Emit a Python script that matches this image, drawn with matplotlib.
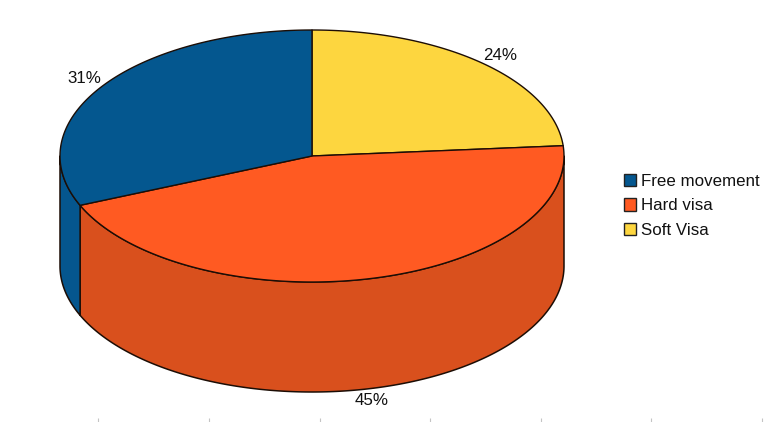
"""
3D style pie of visa preference shares
"""

import matplotlib
matplotlib.use("Agg")
import matplotlib.pyplot as plt
from matplotlib.patches import Patch, Polygon
import numpy as np

plt.rcParams['font.family'] = ['Liberation Sans', 'DejaVu Sans']

############### Data ################
# clockwise from 12 o'clock, as the slices are drawn
# shares are read off the slice edges, percents are the printed labels
labels = ["Soft Visa", "Hard visa", "Free movement"]
shares = [23.7, 44.9, 31.4]
percents = [24, 45, 31]

legend_order = ["Free movement", "Hard visa", "Soft Visa"]

top_colors = {"Free movement": "#04578F", "Hard visa": "#FF5A22", "Soft Visa": "#FDD63F"}
side_colors = {"Free movement": "#05568E", "Hard visa": "#D9501D", "Soft Visa": "#D9B535"}

############### Pie geometry, in pixels ################
cx, cy = 312, 156
rx, ry = 252, 126
depth = 110
label_r = 1.09


def rim(a0, a1):
    # points on the top ellipse, angles in degrees clockwise from the top
    t = np.radians(np.linspace(a0, a1, 200))
    return cx + rx * np.sin(t), cy - ry * np.cos(t)


fig = plt.figure(figsize=(7.68, 4.22), dpi=100)
ax = fig.add_axes([0, 0, 1, 1])
ax.set_xlim(0, 768)
ax.set_ylim(422, 0)
ax.axis('off')

edges = np.cumsum([0] + shares) * 3.6
label_edges = np.cumsum([0] + percents) * 3.6

########### Side walls ###########
for i, name in enumerate(labels):
    # only the part of the wall on the front half is visible
    a0, a1 = max(edges[i], 90), min(edges[i + 1], 270)
    if a1 <= a0:
        continue
    x, y = rim(a0, a1)
    pts = np.r_[np.c_[x, y], np.c_[x, y + depth][::-1]]
    ax.add_patch(Polygon(pts, closed=True, facecolor=side_colors[name],
                         edgecolor='#1c0d05', linewidth=1.1, joinstyle='round'))

########### Top faces ###########
for i, name in enumerate(labels):
    x, y = rim(edges[i], edges[i + 1])
    pts = np.r_[[[cx, cy]], np.c_[x, y]]
    ax.add_patch(Polygon(pts, closed=True, facecolor=top_colors[name],
                         edgecolor='#1c0d05', linewidth=1.0, joinstyle='round'))

########### Percent labels ###########
for i, name in enumerate(labels):
    mid = np.radians((label_edges[i] + label_edges[i + 1]) / 2)
    lx = cx + label_r * rx * np.sin(mid)
    ly = cy - label_r * ry * np.cos(mid)
    if np.cos(mid) < 0:
        ly += depth
    ax.text(lx, ly, f"{percents[i]}%", fontsize=12.2, color='#111111',
            ha='center', va='center')

########### Legend ###########
handles = [Patch(facecolor=top_colors[n], edgecolor='#222222', linewidth=1.0, label=n)
           for n in legend_order]
ax.legend(handles=handles, loc='center left', bbox_to_anchor=(0.8125, 0.512),
          frameon=False, fontsize=12.2, handlelength=0.72, handleheight=0.72,
          handletextpad=0.3, labelspacing=0.58, borderpad=0, borderaxespad=0,
          labelcolor='#111111')

########### Faint ticks along the bottom ###########
ax.vlines([98, 209, 320, 430, 541, 651, 762], 418, 422, color='#c4c4c4', linewidth=0.8)

plt.savefig("out.png", dpi=100)
